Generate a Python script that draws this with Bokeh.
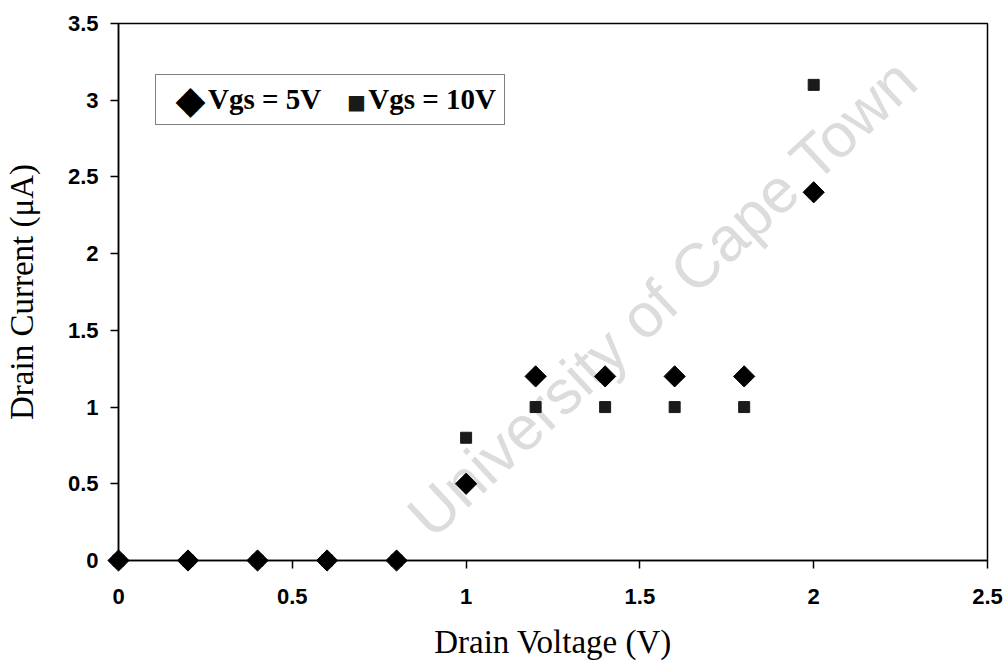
from math import pi

from bokeh.embed import file_html
from bokeh.models import (ColumnDataSource, FixedTicker, Label, Legend,
                          LegendItem, Range1d)
from bokeh.plotting import figure
from bokeh.resources import INLINE

# Drain voltage sweep (V)
drain_voltage = [0.0, 0.2, 0.4, 0.6, 0.8, 1.0, 1.2, 1.4, 1.6, 1.8, 2.0]
# Drain current (uA) for each gate-source voltage
current_vgs5 = [0.0, 0.0, 0.0, 0.0, 0.0, 0.5, 1.2, 1.2, 1.2, 1.2, 2.4]
current_vgs10 = [0.0, 0.0, 0.0, 0.0, 0.0, 0.8, 1.0, 1.0, 1.0, 1.0, 3.1]

series_names = ["Vgs = 5V", "Vgs = 10V"]

x_ticks = [0, 0.5, 1, 1.5, 2, 2.5]
x_tick_labels = ["0", "0.5", "1", "1.5", "2", "2.5"]
y_ticks = [0, 0.5, 1, 1.5, 2, 2.5, 3, 3.5]
y_tick_labels = ["0", "0.5", "1", "1.5", "2", "2.5", "3", "3.5"]

src5 = ColumnDataSource(dict(x=drain_voltage, y=current_vgs5))
src10 = ColumnDataSource(dict(x=drain_voltage, y=current_vgs10))

p = figure(
    width=1006, height=666,
    x_range=Range1d(0, 2.5), y_range=Range1d(0, 3.5),
    output_backend="svg", toolbar_location=None,
    min_border_left=116, min_border_right=19,
    min_border_top=23, min_border_bottom=106,
    background_fill_color="white", border_fill_color="white",
)
p.grid.visible = False
p.outline_line_color = "black"
p.outline_line_width = 1.5

for ax in (p.xaxis[0], p.yaxis[0]):
    ax.axis_line_color = "black"
    ax.axis_line_width = 1.5
    ax.major_tick_line_color = "black"
    ax.major_tick_line_width = 1.5
    ax.major_tick_in = 0
    ax.major_tick_out = 8
    ax.minor_tick_line_color = None
    ax.major_label_text_font = "Liberation Sans"
    ax.major_label_text_font_style = "bold"
    ax.major_label_text_font_size = "22px"
    ax.major_label_text_color = "black"
    ax.axis_label_text_font = "Liberation Serif"
    ax.axis_label_text_font_style = "normal"
    ax.axis_label_text_font_size = "33px"
    ax.axis_label_text_color = "black"

p.xaxis.ticker = FixedTicker(ticks=x_ticks)
p.yaxis.ticker = FixedTicker(ticks=y_ticks)
p.xaxis.major_label_overrides = dict(zip(x_ticks, x_tick_labels))
p.yaxis.major_label_overrides = dict(zip(y_ticks, y_tick_labels))
p.xaxis.major_label_standoff = 20
p.yaxis.major_label_standoff = 12
p.xaxis.axis_label = "Drain Voltage (V)"
p.yaxis.axis_label = "Drain Current (\u03bcA)"
p.xaxis.axis_label_standoff = 17
p.yaxis.axis_label_standoff = 25

# faint diagonal watermark, kept inside the plot frame
p.add_layout(Label(
    x=544, y=263, x_units="screen", y_units="screen",
    text="University of Cape Town", angle=0.75,
    text_font="Liberation Sans", text_font_size="62px",
    text_color="#dcdcdc", text_align="center", text_baseline="middle",
    level="underlay",
))

# legend: box and labels; series keys are drawn over it
legend = Legend(
    items=[LegendItem(label=series_names[0], renderers=[]),
           LegendItem(label=series_names[1], renderers=[])],
    orientation="horizontal",
    location=(37, 435),
    glyph_width=30, glyph_height=30,
    label_standoff=14, spacing=3, padding=8, margin=0,
    label_text_font="Liberation Serif", label_text_font_style="bold",
    label_text_font_size="29px", label_text_color="black",
    border_line_color="black", border_line_width=1.5,
    background_fill_color="white", background_fill_alpha=0.0,
)
p.add_layout(legend)

for key, kx, ky, size, col in (("\u25c6", 72, 461, "39px", "black"),
                               ("\u25a0", 238, 459, "20px", "#1a1a1a")):
    p.add_layout(Label(
        x=kx, y=ky, x_units="screen", y_units="screen", text=key,
        text_font="DejaVu Sans", text_font_size=size, text_color=col,
        text_align="center", text_baseline="middle",
    ))

# markers sit above the frame clip so the ones on the axis show whole
r10 = p.scatter("x", "y", source=src10, marker="square", size=11,
                fill_color="#1a1a1a", line_color="#1a1a1a", level="overlay")
r5 = p.scatter("x", "y", source=src5, marker="square", angle=pi / 4,
               size=15, fill_color="black", line_color="black",
               level="overlay")

open("out.html", "w").write(file_html(p, INLINE))
